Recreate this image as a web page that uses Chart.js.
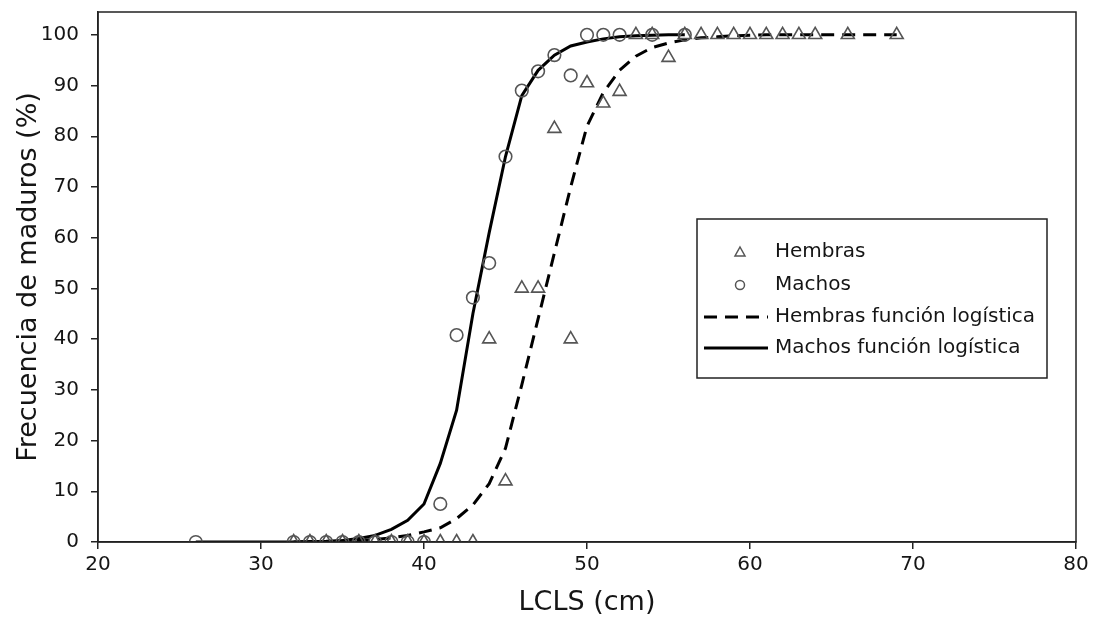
<!DOCTYPE html>
<html>
<head>
<meta charset="utf-8">
<script src="https://cdn.jsdelivr.net/npm/chart.js@4/dist/chart.umd.min.js"></script>
<style>
  html, body { margin: 0; padding: 0; background: #fff; }
  #wrap { width: 1094px; height: 621px; }
</style>
</head>
<body>
<div id="wrap"><canvas id="madurezChart"></canvas></div>
<script>
// observed points
const hembrasLen = [32, 33, 34, 35, 36, 37, 38, 39, 40, 41, 42, 43,
    44, 45, 46, 47, 48, 49, 50, 51, 52, 53, 54, 55, 56, 57, 58, 59, 60, 61, 62, 63, 64, 66, 69];
const hembrasPct = [0, 0, 0, 0, 0, 0, 0, 0, 0, 0, 0, 0,
    40, 12, 50, 50, 81.5, 40, 90.5, 86.5, 88.8, 100, 100, 95.5, 100, 100, 100, 100, 100, 100, 100, 100, 100, 100, 100];
const machosLen = [26, 32, 33, 34, 35, 36, 37, 38, 39, 40,
    41, 42, 43, 44, 45, 46, 47, 48, 49, 50, 51, 52, 54, 56];
const machosPct = [0, 0, 0, 0, 0, 0, 0, 0, 0, 0,
    7.5, 40.8, 48.2, 55, 76, 89, 92.8, 96, 92, 100, 100, 100, 100, 100];

// fitted curves
const hembrasFitLen = [32, 33, 34, 35, 36, 37, 38, 39, 40, 41, 42, 43, 44, 45, 46, 47, 48, 49, 50,
    51, 52, 53, 54, 55, 56, 57, 58, 59, 60, 61, 62, 63, 64, 65, 66, 67, 68, 69];
const hembrasFitPct = [0, 0.05, 0.1, 0.2, 0.3, 0.5, 0.8, 1.3, 2.0, 2.8, 4.6, 7.3, 11.5, 18.5, 31, 44, 57, 70, 82,
    88.6, 93, 95.8, 97.5, 98.4, 99, 99.4, 99.6, 99.8, 99.9, 100, 100, 100, 100, 100, 100, 100, 100, 100];
const machosFitLen = [26, 27, 28, 29, 30, 31, 32, 33, 34, 35, 36, 37, 38, 39, 40, 41, 42, 43, 44,
    45, 46, 47, 48, 49, 50, 51, 52, 53, 54, 55, 56];
const machosFitPct = [0, 0, 0, 0, 0, 0, 0, 0.1, 0.15, 0.3, 0.7, 1.3, 2.5, 4.3, 7.5, 15.5, 26, 45, 61,
    76, 88, 93, 96, 97.8, 98.6, 99.2, 99.6, 99.8, 99.9, 100, 100];

const xTicks = [20, 30, 40, 50, 60, 70, 80];
const yTicks = [0, 10, 20, 30, 40, 50, 60, 70, 80, 90, 100];

const pts = (xs, ys) => xs.map((x, i) => ({ x: x, y: ys[i] }));

const FONT = 'DejaVu Sans, Verdana, sans-serif';
const INK = '#151515';

// box legend inside plot, Excel style
const boxLegend = {
    id: 'boxLegend',
    afterDraw(chart) {
        const c = chart.ctx;
        const x0 = 697, y0 = 219, w = 350, h = 159;
        c.save();
        c.fillStyle = '#fff';
        c.fillRect(x0, y0, w, h);
        c.strokeStyle = '#222';
        c.lineWidth = 1.5;
        c.strokeRect(x0, y0, w, h);
        c.font = '20px ' + FONT;
        c.textBaseline = 'middle';
        c.fillStyle = INK;
        const rows = [252, 285, 317, 348];
        chart.data.datasets.forEach((ds, i) => {
            const y = rows[i];
            c.fillText(ds.label, 775, y);
            if (ds.showLine) {
                c.strokeStyle = '#000';
                c.lineWidth = 3;
                c.setLineDash(ds.borderDash || []);
                c.beginPath();
                c.moveTo(704, y);
                c.lineTo(768, y);
                c.stroke();
                c.setLineDash([]);
            } else {
                c.strokeStyle = ds.borderColor;
                c.lineWidth = 1.5;
                c.beginPath();
                if (ds.pointStyle === 'triangle') {
                    c.moveTo(740, y - 5);
                    c.lineTo(745, y + 4);
                    c.lineTo(735, y + 4);
                    c.closePath();
                } else {
                    c.arc(740, y, 4.5, 0, Math.PI * 2);
                }
                c.stroke();
            }
        });
        c.restore();
    }
};

// frame round the plot area
const plotFrame = {
    id: 'plotFrame',
    afterDraw(chart) {
        const a = chart.chartArea, c = chart.ctx;
        c.save();
        c.strokeStyle = '#222';
        c.lineWidth = 1.5;
        c.strokeRect(a.left, a.top, a.right - a.left, a.bottom - a.top);
        c.restore();
    }
};

const ctx = document.getElementById('madurezChart').getContext('2d');
const madurezChart = new Chart(ctx, {
    type: 'scatter',
    data: {
        datasets: [
            {
                label: 'Hembras',
                data: pts(hembrasLen, hembrasPct),
                pointStyle: 'triangle',
                pointRadius: 7.5,
                pointHoverRadius: 7.5,
                borderColor: '#555',
                backgroundColor: 'rgba(0,0,0,0)',
                pointBorderWidth: 1.6
            },
            {
                label: 'Machos',
                data: pts(machosLen, machosPct),
                pointStyle: 'circle',
                pointRadius: 6.3,
                pointHoverRadius: 6.3,
                borderColor: '#555',
                backgroundColor: 'rgba(0,0,0,0)',
                pointBorderWidth: 1.6
            },
            {
                label: 'Hembras función logística',
                data: pts(hembrasFitLen, hembrasFitPct),
                showLine: true,
                borderColor: '#000',
                borderWidth: 3,
                borderDash: [13, 8],
                pointRadius: 0,
                pointHoverRadius: 0,
                tension: 0
            },
            {
                label: 'Machos función logística',
                data: pts(machosFitLen, machosFitPct),
                showLine: true,
                borderColor: '#000',
                borderWidth: 3,
                pointRadius: 0,
                pointHoverRadius: 0,
                tension: 0
            }
        ]
    },
    options: {
        responsive: true,
        maintainAspectRatio: false,
        animation: false,
        layout: { padding: { top: 12, right: 18, left: 0, bottom: 0 } },
        plugins: {
            legend: { display: false },
            tooltip: { enabled: false }
        },
        scales: {
            x: {
                type: 'linear',
                min: xTicks[0],
                max: xTicks[xTicks.length - 1],
                afterFit: s => { s.height = 79; },
                afterBuildTicks: s => { s.ticks = xTicks.map(v => ({ value: v })); },
                grid: { drawOnChartArea: false, tickLength: 7, color: '#222', lineWidth: 1.5 },
                border: { color: '#222', width: 1.5 },
                ticks: { color: INK, font: { family: FONT, size: 20 }, padding: 4 },
                title: {
                    display: true,
                    text: 'LCLS (cm)',
                    color: INK,
                    font: { family: FONT, size: 27, lineHeight: 1.2 },
                    padding: { top: 0, bottom: 2 }
                }
            },
            y: {
                type: 'linear',
                min: 0,
                max: 104.5,
                afterFit: s => { s.width = 98; s.paddingTop = 0; s.paddingBottom = 0; },
                afterBuildTicks: s => { s.ticks = yTicks.map(v => ({ value: v })); },
                grid: { drawOnChartArea: false, tickLength: 7, color: '#222', lineWidth: 1.5 },
                border: { color: '#222', width: 1.5 },
                ticks: { color: INK, font: { family: FONT, size: 20 }, padding: 12 },
                title: {
                    display: true,
                    text: 'Frecuencia de maduros (%)',
                    color: INK,
                    font: { family: FONT, size: 27, lineHeight: 1.2 },
                    padding: { top: 13, bottom: 0 }
                }
            }
        }
    },
    plugins: [plotFrame, boxLegend]
});
</script>
</body>
</html>
